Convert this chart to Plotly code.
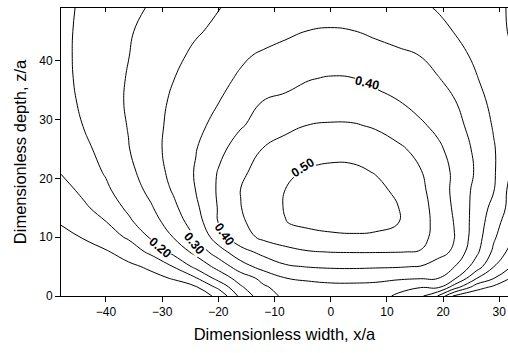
import plotly.graph_objects as go

# Horizontal positions (x/a) of the grid columns
width_vals = [-48, -44, -40, -36, -32, -28, -24, -20, -16, -12, -8, -4, 0, 4, 8, 12, 16, 19, 22, 26, 29, 32]
# Depths (z/a) of the grid rows
depth_vals = [0, 1.5, 3, 5, 7.5, 10, 12.5, 15, 18, 21, 25, 29, 33, 37, 41, 45, 49]

# Estimated field values, one list per depth row
r_00 = [0.040, 0.045, 0.050, 0.055, 0.060, 0.070, 0.080, 0.108, 0.215, 0.279, 0.310, 0.315, 0.318, 0.318, 0.312, 0.295, 0.260, 0.200, 0.090, 0.060, 0.050, 0.045]
r_01 = [0.045, 0.050, 0.055, 0.060, 0.070, 0.080, 0.095, 0.161, 0.244, 0.293, 0.320, 0.332, 0.337, 0.338, 0.335, 0.310, 0.302, 0.310, 0.225, 0.121, 0.090, 0.080]
r_03 = [0.050, 0.058, 0.066, 0.075, 0.087, 0.103, 0.145, 0.217, 0.272, 0.314, 0.349, 0.358, 0.364, 0.364, 0.362, 0.358, 0.352, 0.351, 0.308, 0.200, 0.151, 0.099]
r_05 = [0.055, 0.065, 0.078, 0.090, 0.108, 0.151, 0.213, 0.266, 0.328, 0.369, 0.394, 0.402, 0.406, 0.407, 0.405, 0.403, 0.398, 0.371, 0.351, 0.275, 0.201, 0.153]
r_07 = [0.070, 0.083, 0.095, 0.121, 0.161, 0.214, 0.264, 0.327, 0.383, 0.413, 0.435, 0.447, 0.451, 0.452, 0.452, 0.451, 0.448, 0.425, 0.389, 0.309, 0.240, 0.185]
r_10 = [0.078, 0.103, 0.128, 0.156, 0.206, 0.251, 0.301, 0.377, 0.430, 0.460, 0.475, 0.485, 0.490, 0.493, 0.491, 0.483, 0.462, 0.437, 0.401, 0.321, 0.257, 0.208]
r_12 = [0.105, 0.127, 0.148, 0.190, 0.230, 0.272, 0.325, 0.401, 0.443, 0.472, 0.499, 0.510, 0.518, 0.520, 0.515, 0.501, 0.467, 0.437, 0.398, 0.326, 0.271, 0.221]
r_15 = [0.118, 0.141, 0.172, 0.209, 0.245, 0.289, 0.340, 0.403, 0.449, 0.478, 0.503, 0.518, 0.528, 0.532, 0.525, 0.501, 0.466, 0.434, 0.393, 0.330, 0.285, 0.235]
r_18 = [0.131, 0.161, 0.192, 0.225, 0.262, 0.305, 0.351, 0.406, 0.451, 0.476, 0.501, 0.515, 0.525, 0.525, 0.512, 0.491, 0.460, 0.429, 0.389, 0.335, 0.302, 0.235]
r_21 = [0.152, 0.178, 0.204, 0.237, 0.274, 0.314, 0.354, 0.403, 0.442, 0.468, 0.491, 0.506, 0.512, 0.510, 0.498, 0.475, 0.453, 0.424, 0.392, 0.343, 0.306, 0.249]
r_25 = [0.159, 0.188, 0.218, 0.248, 0.283, 0.317, 0.348, 0.387, 0.422, 0.452, 0.466, 0.476, 0.483, 0.483, 0.474, 0.459, 0.435, 0.410, 0.382, 0.339, 0.304, 0.263]
r_29 = [0.176, 0.201, 0.226, 0.252, 0.284, 0.312, 0.337, 0.365, 0.396, 0.418, 0.440, 0.451, 0.455, 0.454, 0.445, 0.426, 0.407, 0.389, 0.366, 0.330, 0.296, 0.265]
r_33 = [0.184, 0.207, 0.231, 0.255, 0.282, 0.307, 0.328, 0.349, 0.376, 0.402, 0.410, 0.417, 0.420, 0.419, 0.412, 0.402, 0.383, 0.368, 0.353, 0.316, 0.288, 0.263]
r_37 = [0.188, 0.210, 0.231, 0.253, 0.276, 0.299, 0.319, 0.338, 0.356, 0.371, 0.385, 0.398, 0.403, 0.401, 0.391, 0.378, 0.364, 0.353, 0.334, 0.302, 0.279, 0.255]
r_41 = [0.190, 0.210, 0.230, 0.249, 0.270, 0.290, 0.308, 0.326, 0.343, 0.356, 0.365, 0.372, 0.375, 0.373, 0.367, 0.359, 0.349, 0.332, 0.315, 0.291, 0.272, 0.253]
r_45 = [0.190, 0.209, 0.227, 0.246, 0.263, 0.280, 0.296, 0.308, 0.319, 0.330, 0.342, 0.351, 0.353, 0.351, 0.342, 0.331, 0.318, 0.309, 0.299, 0.279, 0.263, 0.247]
r_49 = [0.190, 0.206, 0.222, 0.238, 0.254, 0.269, 0.284, 0.299, 0.309, 0.318, 0.326, 0.332, 0.335, 0.333, 0.326, 0.316, 0.305, 0.298, 0.285, 0.270, 0.258, 0.247]

ratio_rows = [r_00, r_01, r_03, r_05, r_07, r_10, r_12, r_15, r_18, r_21,
              r_25, r_29, r_33, r_37, r_41, r_45, r_49]

# Contour levels
level_start, level_end, level_step = 0.10, 0.50, 0.05

# Labelled contour values
label_texts = ["0.20", "0.30", "0.40", "0.50", "0.40"]

# Axis ticks
x_ticks = [-40, -30, -20, -10, 0, 10, 20, 30]
y_ticks = [0, 10, 20, 30, 40]

FONT = "Liberation Sans, Arial, sans-serif"
X_RANGE = [-48, 31.55]

fig = go.Figure()
fig.add_trace(go.Contour(
    x=width_vals, y=depth_vals, z=ratio_rows,
    contours=dict(start=level_start, end=level_end + 1e-4, size=level_step,
                  coloring="lines", showlabels=False),
    colorscale=[[0, "black"], [1, "black"]],
    showscale=False,
    line=dict(width=1, smoothing=1.3),
    hoverinfo="skip",
))
# invisible companion so that the top (mirror) axis is drawn
fig.add_trace(go.Scatter(
    x=[width_vals[0], width_vals[-1]], y=[depth_vals[0], depth_vals[-1]],
    xaxis="x2", mode="none", hoverinfo="skip", showlegend=False,
))

# label placements (x, z, angle) for the labelled contours
label_places = [(-30.3, 8.2, 40), (-24.4, 9.0, 50), (-19.0, 10.5, 55),
                (-5.0, 21.7, -33), (6.4, 36.3, 14)]
for txt, (lx, lz, ang) in zip(label_texts, label_places):
    fig.add_annotation(x=lx, y=lz, xref="x", yref="y", text="<b>%s</b>" % txt,
                       showarrow=False, textangle=ang, bgcolor="white",
                       font=dict(family=FONT, size=12.5, color="black"),
                       borderpad=0)

axis_common = dict(showgrid=False, zeroline=False, showline=True,
                   linecolor="black", linewidth=1, tickcolor="black",
                   automargin=False,
                   tickfont=dict(family=FONT, size=12, color="black"))

fig.update_layout(
    width=508, height=353,
    margin=dict(l=61, r=0, t=8, b=57),
    paper_bgcolor="white", plot_bgcolor="white",
    showlegend=False,
    xaxis=dict(range=X_RANGE, tickvals=x_ticks, ticks="outside", ticklen=5,
               title=dict(text="Dimensionless width, x/a", standoff=10,
                          font=dict(family=FONT, size=16.5, color="black")),
               **axis_common),
    xaxis2=dict(range=X_RANGE, tickvals=x_ticks, ticks="inside", ticklen=4,
                overlaying="x", side="top", showticklabels=False,
                **axis_common),
    yaxis=dict(range=[0, 49], tickvals=y_ticks, ticks="outside", ticklen=5,
               title=dict(text="Dimensionless depth, z/a", standoff=8,
                          font=dict(family=FONT, size=16.5, color="black")),
               **axis_common),
)

fig.write_html("out.html", config={"displayModeBar": False},
               post_script="document.body.style.margin='0';")
